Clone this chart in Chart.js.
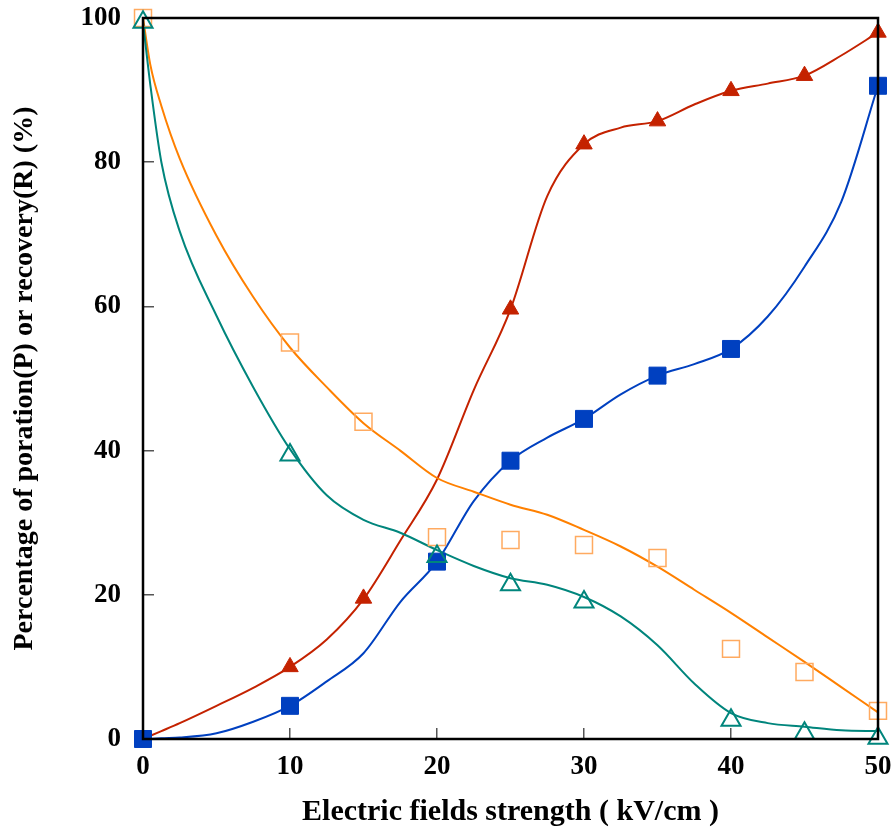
<!DOCTYPE html>
<html>
<head>
<meta charset="utf-8">
<script src="https://cdn.jsdelivr.net/npm/chart.js@4/dist/chart.umd.min.js"></script>
<style>
  body { margin: 0; background: #fff; }
  #chart-wrap { width: 894px; height: 834px; }
</style>
</head>
<body>
<div id="chart-wrap"><canvas id="poration-canvas" width="894" height="834"></canvas></div>
<script>
// measured points (field strength kV/cm -> %)
var redX = [0, 10, 15, 25, 30, 35, 40, 45, 50];
var redY = [0, 10, 19.5, 59.6, 82.5, 85.7, 89.9, 92, 98];
var blueX = [0, 10, 20, 25, 30, 35, 40, 50];
var blueY = [0, 4.6, 24.6, 38.6, 44.4, 50.4, 54.1, 90.6];
var orangeX = [0, 10, 15, 20, 25, 30, 35, 40, 45, 50];
var orangeY = [100, 55, 44, 28, 27.6, 26.9, 25.1, 12.5, 9.3, 3.9];
var tealX = [0, 10, 20, 25, 30, 40, 45, 50];
var tealY = [99.4, 39.4, 25.3, 21.4, 19, 2.6, 0.8, 0.1];

// fitted curves
var curveX = [0, 0.5, 1.25, 2.5, 5, 7.5, 10, 12.5, 15, 17.5, 20, 22.5, 25, 27.5, 30, 32.5, 35, 37.5, 40, 42.5, 45, 47.5, 50];
var redCurve = [0, 0.45, 1.1, 2.2, 4.6, 7.1, 10, 13.8, 19.4, 27.5, 36, 48.4, 59.6, 75.3, 82.5, 84.8, 85.7, 88, 89.9, 90.9, 92, 94.8, 98];
var blueCurve = [0, 0, 0.1, 0.2, 0.8, 2.4, 4.6, 8, 11.9, 19, 24.6, 33, 38.6, 41.8, 44.4, 47.8, 50.4, 52, 54.1, 58.6, 65.5, 74.5, 90.6];
var orangeCurve = [100, 93.5, 87.8, 80.5, 69.8, 61.3, 54.3, 48.8, 43.8, 40, 36.2, 34.3, 32.5, 31.1, 29, 26.7, 23.9, 20.7, 17.5, 14.1, 10.7, 7.2, 3.7];
var tealCurve = [99.4, 90.7, 80, 70.4, 58.7, 48.8, 40.2, 33.8, 30.4, 28.6, 26.2, 24, 22.3, 21.4, 19.7, 17, 13, 7.7, 3.6, 2.2, 1.7, 1.2, 1.1];

var xTicks = [0, 10, 20, 30, 40, 50];
var yTicks = [0, 20, 40, 60, 80, 100];

var RED = "#C42200", BLUE = "#0040C0", ORANGE = "#FF8000", ORANGE_PT = "#FFAA60", TEAL = "#00857C";
var FONT = "'Liberation Serif', 'Times New Roman', serif";

function pts(xs, ys) {
  return xs.map(function (x, i) { return { x: x, y: ys[i] }; });
}

function curve(ys, color, order) {
  return {
    data: pts(curveX, ys),
    showLine: true,
    borderColor: color,
    borderWidth: 2,
    pointRadius: 0,
    cubicInterpolationMode: "monotone",
    clip: false,
    order: order
  };
}

function marks(xs, ys, style, radius, fill, stroke, width, order) {
  return {
    data: pts(xs, ys),
    showLine: false,
    pointStyle: style,
    pointRadius: radius,
    pointBackgroundColor: fill,
    pointBorderColor: stroke,
    pointBorderWidth: width,
    clip: false,
    order: order
  };
}

// no extra room for the end tick labels, the plot box is fixed
function noPad(s) {
  s.paddingTop = 0;
  s.paddingBottom = 0;
  s.paddingLeft = 0;
  s.paddingRight = 0;
}

// black box around the plot
var framePlugin = {
  id: "frame",
  afterDatasetsDraw: function (chart) {
    var a = chart.chartArea, c = chart.ctx;
    c.save();
    c.strokeStyle = "#000";
    c.lineWidth = 2.5;
    c.strokeRect(a.left, a.top, a.right - a.left, a.bottom - a.top);
    c.restore();
  }
};

var ctx = document.getElementById("poration-canvas");

new Chart(ctx, {
  type: "scatter",
  data: {
    datasets: [
      curve(redCurve, RED, 20),
      curve(blueCurve, BLUE, 19),
      curve(orangeCurve, ORANGE, 18),
      curve(tealCurve, TEAL, 17),
      marks(redX, redY, "triangle", 9.5, RED, RED, 1, 4),
      marks(blueX, blueY, "rect", 12, BLUE, BLUE, 1, 3),
      marks(orangeX, orangeY, "rect", 12, "rgba(0,0,0,0)", ORANGE_PT, 1.5, 2),
      marks(tealX, tealY, "triangle", 11, "rgba(0,0,0,0)", TEAL, 2, 1)
    ]
  },
  options: {
    responsive: false,
    animation: false,
    layout: { padding: { top: 18, right: 16, left: 0, bottom: 0 } },
    plugins: {
      legend: { display: false },
      tooltip: { enabled: false }
    },
    scales: {
      x: {
        type: "linear",
        min: 0,
        max: 50,
        afterBuildTicks: function (s) { s.ticks = xTicks.map(function (v) { return { value: v }; }); },
        afterFit: function (s) { s.height = 95; noPad(s); },
        border: { display: false },
        grid: { drawOnChartArea: false, tickLength: -11, color: "#555", lineWidth: 1.5 },
        ticks: { color: "#000", padding: 23, maxRotation: 0, font: { family: FONT, size: 27, weight: "bold" } },
        title: {
          display: true,
          text: "Electric fields strength ( kV/cm )",
          color: "#000",
          padding: { top: 0, bottom: 4 },
          font: { family: FONT, size: 30, weight: "bold" }
        }
      },
      y: {
        type: "linear",
        min: 0,
        max: 100,
        afterBuildTicks: function (s) { s.ticks = yTicks.map(function (v) { return { value: v }; }); },
        afterFit: function (s) { s.width = 143; noPad(s); },
        border: { display: false },
        grid: { drawOnChartArea: false, tickLength: -11, color: "#555", lineWidth: 1.5 },
        ticks: { color: "#000", padding: 33, font: { family: FONT, size: 27, weight: "bold" } },
        title: {
          display: true,
          text: "Percentage of poration(P) or recovery(R) (%)",
          color: "#000",
          padding: { top: 8, bottom: 0 },
          font: { family: FONT, size: 28, weight: "bold" }
        }
      }
    }
  },
  plugins: [framePlugin]
});
</script>
</body>
</html>
